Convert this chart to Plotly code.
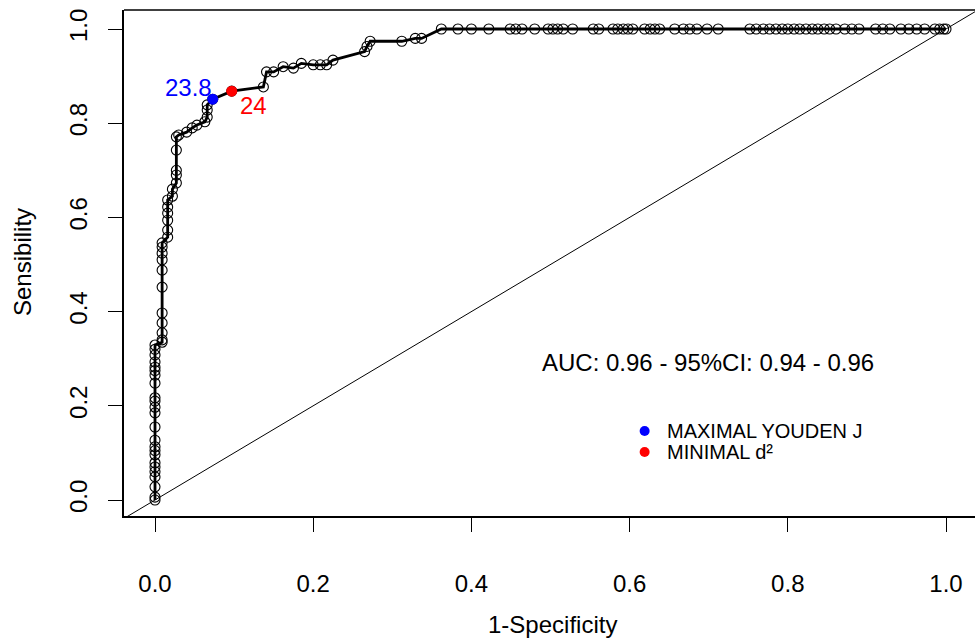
import plotly.graph_objects as go

# ROC curve points (1-Specificity, Sensibility)
fpr = [0.0, 0.0, 0.0, 0.0, 0.0, 0.0, 0.0, 0.0, 0.0, 0.0, 0.0, 0.0, 0.0, 0.0, 0.0, 0.0,
       0.0, 0.0, 0.0, 0.0, 0.0, 0.0, 0.0, 0.0,
       0.009, 0.009, 0.009, 0.009, 0.009, 0.009, 0.009, 0.009, 0.009, 0.009, 0.009,
       0.016, 0.016, 0.016, 0.016, 0.016, 0.016,
       0.022, 0.022,
       0.027, 0.027, 0.027, 0.027, 0.027,
       0.030, 0.040, 0.047, 0.053, 0.063, 0.066, 0.066, 0.066, 0.073, 0.097,
       0.137, 0.141, 0.150, 0.162, 0.175, 0.185, 0.200, 0.209, 0.217, 0.225,
       0.265, 0.268, 0.272, 0.312, 0.329, 0.337,
       0.362, 0.383, 0.400, 0.422, 0.449, 0.456, 0.464, 0.480, 0.497, 0.503,
       0.509, 0.516, 0.528, 0.554, 0.561, 0.579, 0.585, 0.592, 0.598, 0.604,
       0.619, 0.626, 0.632, 0.638, 0.657, 0.668, 0.676, 0.685, 0.698, 0.712,
       0.752, 0.760, 0.769, 0.777, 0.785, 0.793, 0.800, 0.808, 0.815, 0.823,
       0.831, 0.838, 0.846, 0.853, 0.861, 0.872, 0.881, 0.890, 0.911, 0.920,
       0.929, 0.943, 0.953, 0.963, 0.973, 0.986, 0.992, 0.997, 1.0]
tpr = [0.0, 0.006, 0.028, 0.049, 0.060, 0.070, 0.079, 0.096, 0.105, 0.113, 0.127, 0.155,
       0.185, 0.197, 0.210, 0.217, 0.248, 0.265, 0.275, 0.282, 0.293, 0.308, 0.320, 0.329,
       0.335, 0.340, 0.355, 0.376, 0.397, 0.452, 0.488, 0.510, 0.524, 0.537, 0.546,
       0.558, 0.573, 0.594, 0.609, 0.622, 0.637,
       0.645, 0.660,
       0.673, 0.690, 0.700, 0.743, 0.771,
       0.775, 0.781, 0.790, 0.796, 0.803, 0.813, 0.828, 0.839, 0.851, 0.868,
       0.877, 0.909, 0.909, 0.920, 0.917, 0.927, 0.924, 0.924, 0.924, 0.934,
       0.952, 0.963, 0.974, 0.974, 0.980, 0.980,
       1.0, 1.0, 1.0, 1.0, 1.0, 1.0, 1.0, 1.0, 1.0, 1.0,
       1.0, 1.0, 1.0, 1.0, 1.0, 1.0, 1.0, 1.0, 1.0, 1.0,
       1.0, 1.0, 1.0, 1.0, 1.0, 1.0, 1.0, 1.0, 1.0, 1.0,
       1.0, 1.0, 1.0, 1.0, 1.0, 1.0, 1.0, 1.0, 1.0, 1.0,
       1.0, 1.0, 1.0, 1.0, 1.0, 1.0, 1.0, 1.0, 1.0, 1.0,
       1.0, 1.0, 1.0, 1.0, 1.0, 1.0, 1.0, 1.0, 1.0]

# Optimal cut-off points
youden_point = (0.073, 0.851)
youden_label = "23.8"
d2_point = (0.097, 0.868)
d2_label = "24"

auc_text = "AUC: 0.96 - 95%CI: 0.94 - 0.96"
legend_labels = ["MAXIMAL YOUDEN J", "MINIMAL d²"]
legend_colors = ["blue", "red"]

tick_vals = [0.0, 0.2, 0.4, 0.6, 0.8, 1.0]
tick_text = ["0.0", "0.2", "0.4", "0.6", "0.8", "1.0"]

FONT = "Liberation Sans, Arial, sans-serif"
FS = 24

fig = go.Figure()

# chance diagonal
fig.add_trace(go.Scatter(x=[-0.05, 1.05], y=[-0.05, 1.05], mode="lines",
                         line=dict(color="black", width=1), hoverinfo="skip"))

# ROC curve
fig.add_trace(go.Scatter(x=fpr, y=tpr, mode="lines+markers",
                         line=dict(color="black", width=2.8),
                         marker=dict(symbol="circle-open", size=10, color="black",
                                     line=dict(width=1.1, color="black"))))

# cut-off points
fig.add_trace(go.Scatter(x=[youden_point[0]], y=[youden_point[1]], mode="markers",
                         marker=dict(color="blue", size=11)))
fig.add_trace(go.Scatter(x=[d2_point[0]], y=[d2_point[1]], mode="markers",
                         marker=dict(color="red", size=11)))

# legend dots
fig.add_trace(go.Scatter(x=[0.619, 0.619], y=[0.1465, 0.102], mode="markers",
                         marker=dict(color=legend_colors, size=10)))

annotations = [
    dict(x=youden_point[0], y=youden_point[1], text=youden_label, showarrow=False,
         xanchor="right", yanchor="bottom", xshift=1, yshift=-4,
         font=dict(color="blue", size=FS, family=FONT)),
    dict(x=d2_point[0], y=d2_point[1], text=d2_label, showarrow=False,
         xanchor="left", yanchor="top", xshift=6, yshift=1,
         font=dict(color="red", size=FS, family=FONT)),
    dict(x=0.699, y=0.293, text=auc_text, showarrow=False,
         font=dict(color="black", size=FS, family=FONT)),
    dict(x=0.645, y=0.1465, text=legend_labels[0], showarrow=False, xanchor="left",
         font=dict(color="black", size=20, family=FONT)),
    dict(x=0.645, y=0.102, text=legend_labels[1], showarrow=False, xanchor="left",
         font=dict(color="black", size=20, family=FONT)),
    dict(xref="paper", yref="paper", x=(552 - 124) / 851, y=(516 - 624) / 506,
         xanchor="center", yanchor="middle",
         text="1-Specificity", showarrow=False,
         font=dict(color="black", size=FS, family=FONT)),
    dict(xref="paper", yref="paper", x=(22 - 124) / 851, y=(516 - 262) / 506,
         xanchor="center", yanchor="middle",
         text="Sensibility", showarrow=False, textangle=-90,
         font=dict(color="black", size=FS, family=FONT)),
]

fig.update_layout(
    width=975, height=638,
    margin=dict(l=124, r=0, t=10, b=122, autoexpand=False),
    paper_bgcolor="white", plot_bgcolor="white",
    showlegend=False,
    annotations=annotations,
    shapes=[dict(type="line", xref="paper", yref="paper", x0=0, x1=1, y0=1, y1=1,
                 line=dict(color="black", width=1.5))],
    font=dict(family=FONT, size=FS, color="black"),
)
fig.update_xaxes(range=[-31 / 791, 820 / 791], tickvals=tick_vals, ticktext=tick_text,
                 automargin=False,
                 showgrid=False, zeroline=False, showline=True, linecolor="black",
                 linewidth=1.5, ticks="outside", ticklen=14, tickcolor="black",
                 ticklabelstandoff=31, tickfont=dict(size=FS, family=FONT, color="black"))
fig.update_yaxes(range=[-16 / 471, 1 + 19 / 471], tickvals=tick_vals, ticktext=tick_text,
                 automargin=False,
                 showgrid=False, zeroline=False, showline=True, linecolor="black",
                 linewidth=1.5, ticks="outside", ticklen=14, tickcolor="black",
                 tickangle=-90, ticklabelstandoff=12,
                 tickfont=dict(size=FS, family=FONT, color="black"))

fig.write_html("out.html", config={"displayModeBar": False},
               post_script="document.body.style.margin='0';document.body.style.overflow='hidden';")
